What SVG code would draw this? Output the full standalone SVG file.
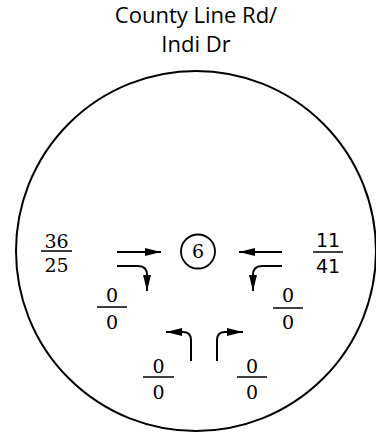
<svg xmlns="http://www.w3.org/2000/svg" width="376" height="434" viewBox="0 0 376 434">
<style>
.title{font-family:"Open Sans","DejaVu Sans",sans-serif;font-size:22px;fill:#000;text-anchor:middle}
.num{font-family:"DejaVu Serif","Liberation Serif",serif;font-size:19px;fill:#000;text-anchor:middle}
.nums{font-family:"DejaVu Sans","Liberation Sans",sans-serif;font-size:19px;fill:#000;text-anchor:middle}
.bar{stroke:#000;stroke-width:1.5}
.arr{fill:none;stroke:#000;stroke-width:2;marker-end:url(#ah)}
</style>
<defs>
<marker id="ah" viewBox="0 0 16 8" refX="16" refY="4" markerWidth="16" markerHeight="8" markerUnits="userSpaceOnUse" orient="auto">
<path d="M0,0 L16,4 L0,8 Z" fill="#000"/>
</marker>
</defs>
<g id="title">
<text class="title" x="196" y="23">County Line Rd/</text>
<text class="title" x="196" y="52">Indi Dr</text>
</g>
<g id="boundary">
<circle cx="196" cy="251" r="180" fill="none" stroke="#000" stroke-width="2"/>
</g>
<g id="node6">
<circle cx="198" cy="251.5" r="17" fill="#fff" stroke="#000" stroke-width="1.8"/>
<text class="num" x="198" y="258">6</text>
</g>
<g id="west">
<text class="num" x="56.5" y="248">36</text>
<line class="bar" x1="41" y1="251" x2="72" y2="251"/>
<text class="num" x="56.5" y="272">25</text>
</g>
<g id="east">
<text class="nums" x="328" y="247">11</text>
<line class="bar" x1="313" y1="252" x2="343" y2="252"/>
<text class="nums" x="328" y="273">41</text>
</g>
<g id="west-right">
<text class="num" x="112" y="302">0</text>
<line class="bar" x1="97" y1="307" x2="127" y2="307"/>
<text class="num" x="112" y="329">0</text>
</g>
<g id="east-left">
<text class="num" x="288" y="302">0</text>
<line class="bar" x1="273" y1="308" x2="303" y2="308"/>
<text class="num" x="288" y="329">0</text>
</g>
<g id="north-left">
<text class="num" x="158.5" y="373">0</text>
<line class="bar" x1="143" y1="377" x2="174" y2="377"/>
<text class="num" x="158.5" y="399">0</text>
</g>
<g id="north-right">
<text class="num" x="252" y="373">0</text>
<line class="bar" x1="237" y1="377" x2="267" y2="377"/>
<text class="num" x="252" y="399">0</text>
</g>
<g id="connectors">
<path class="arr" d="M117,252 L161,252"/>
<path class="arr" d="M117,266 L138,266 Q147,266 147,275 L147,291"/>
<path class="arr" d="M282,252 L239,252"/>
<path class="arr" d="M282,266 L262,266 Q253,266 253,275 L253,291"/>
<path class="arr" d="M191,361 L191,340 Q191,332 183,332 L166,332"/>
<path class="arr" d="M217,361 L217,340 Q217,332 225,332 L243,332"/>
</g>
</svg>
